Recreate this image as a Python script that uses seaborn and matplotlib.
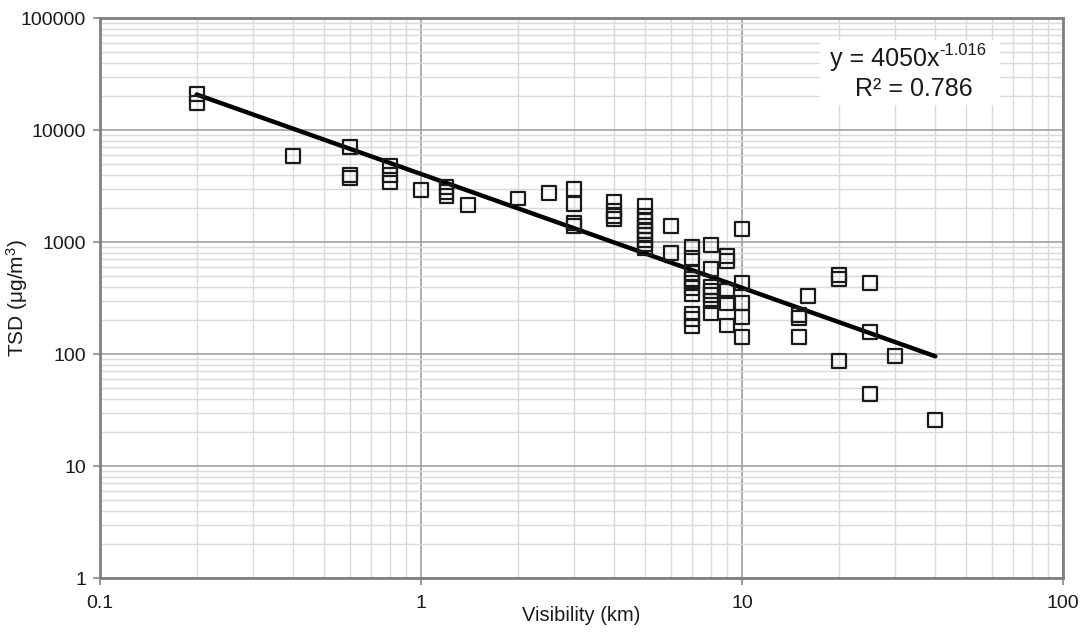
import numpy as np
import pandas as pd
import matplotlib
matplotlib.use("Agg")
import matplotlib.pyplot as plt
import seaborn as sns
from matplotlib.patches import Rectangle
from matplotlib.ticker import LogLocator, FixedLocator, FixedFormatter, NullFormatter

# Visibility (km) vs TSD (ug/m3)
vis = [0.2, 0.2,
       0.4,
       0.6, 0.6, 0.6,
       0.8, 0.8, 0.8,
       1.0,
       1.2, 1.2, 1.2,
       1.4, 2.0, 2.5,
       3, 3, 3, 3,
       4, 4, 4, 4,
       5, 5, 5, 5, 5, 5, 5, 5, 5,
       6, 6,
       7, 7, 7, 7, 7, 7, 7, 7, 7, 7,
       8, 8, 8, 8, 8, 8, 8,
       9, 9, 9, 9, 9,
       10, 10, 10, 10, 10,
       15, 15, 15,
       16,
       20, 20, 20,
       25, 25, 25,
       30, 40]
tsd = [21000, 17500,
       5900,
       7000, 4000, 3700,
       4800, 4000, 3400,
       2900,
       3100, 2800, 2600,
       2150, 2450, 2750,
       2950, 2200, 1480, 1380,
       2300, 1900, 1700, 1600,
       2100, 1700, 1550, 1400, 1250, 1150, 1050, 950, 880,
       1390, 800,
       900, 720, 530, 470, 430, 390, 340, 230, 205, 178,
       940, 570, 400, 365, 335, 300, 232,
       750, 680, 365, 285, 180,
       1310, 430, 287, 213, 143,
       223, 208, 143,
       330,
       505, 465, 87,
       433, 156, 44,
       96, 26]

# power trendline y = a * x^b reported on the chart
fit_a, fit_b = 4050, -1.016
fit_x = [0.2, 40]

df = pd.DataFrame({"Visibility": vis, "TSD": tsd})
fit = pd.DataFrame({"x": fit_x, "y": [fit_a * v ** fit_b for v in fit_x]})

sns.set_style("white")
plt.rcParams["font.family"] = ["Liberation Sans", "DejaVu Sans"]
plt.rcParams["mathtext.default"] = "regular"
plt.rcParams["axes.unicode_minus"] = False

fig = plt.figure(figsize=(10.87, 6.32), dpi=100)
ax = fig.add_axes([0.092, 0.0854, 0.886, 0.886])
ax.set_xscale("log")
ax.set_yscale("log")

# grid: light minor lines, darker major lines
ax.xaxis.set_minor_locator(LogLocator(base=10, subs=np.arange(2, 10)))
ax.yaxis.set_minor_locator(LogLocator(base=10, subs=np.arange(2, 10)))
ax.grid(which="minor", color="#dadada", linewidth=1.0)
ax.grid(which="major", color="#a0a0a0", linewidth=1.2)
ax.set_axisbelow(True)

sns.lineplot(data=fit, x="x", y="y", color="black", linewidth=3.2, ax=ax, zorder=3)
sns.scatterplot(data=df, x="Visibility", y="TSD", marker="s", s=100,
                facecolor="none", edgecolor="#1a1a1a", linewidth=1.6, ax=ax, zorder=4)

ax.set_xlim(0.1, 100)
ax.set_ylim(1, 100000)

x_ticks = [0.1, 1, 10, 100]
y_ticks = [1, 10, 100, 1000, 10000, 100000]
ax.xaxis.set_major_locator(FixedLocator(x_ticks))
ax.xaxis.set_major_formatter(FixedFormatter(["0.1", "1", "10", "100"]))
ax.yaxis.set_major_locator(FixedLocator(y_ticks))
ax.yaxis.set_major_formatter(FixedFormatter([str(v) for v in y_ticks]))
ax.xaxis.set_minor_formatter(NullFormatter())
ax.yaxis.set_minor_formatter(NullFormatter())
ax.tick_params(which="major", labelsize=14, length=5, width=1.2, color="#888888",
               direction="out", labelcolor="#1a1a1a", bottom=True, left=True)
ax.tick_params(axis="x", pad=7)
ax.tick_params(axis="y", pad=5)
ax.tick_params(which="minor", length=0)

for sp in ax.spines.values():
    sp.set_color("#808080")
    sp.set_linewidth(2)

ax.set_xlabel("Visibility (km)", fontsize=14.5, labelpad=-4, color="#1a1a1a")
ax.set_ylabel("TSD (μg/m$^3$)", fontsize=15, color="#1a1a1a")
ax.yaxis.set_label_coords(-0.086, 0.5)
ax.yaxis.label.set_verticalalignment("center")

# trendline equation on a white box
ax.add_patch(Rectangle((0.748, 0.845), 0.187, 0.116, transform=ax.transAxes,
                       facecolor="white", edgecolor="none", zorder=5))
eq = ax.text(0.815, 0.927, "y = 4050x", transform=ax.transAxes, ha="center",
             va="center", fontsize=18, zorder=6, color="#1a1a1a")
ax.annotate("-1.016", xy=(1, 0.55), xycoords=eq, ha="left", va="bottom",
            fontsize=12, color="#1a1a1a", zorder=6)
ax.text(0.845, 0.873, "R² = 0.786", transform=ax.transAxes, ha="center",
        va="center", fontsize=18, zorder=6, color="#1a1a1a")

fig.savefig("out.png", dpi=100)
